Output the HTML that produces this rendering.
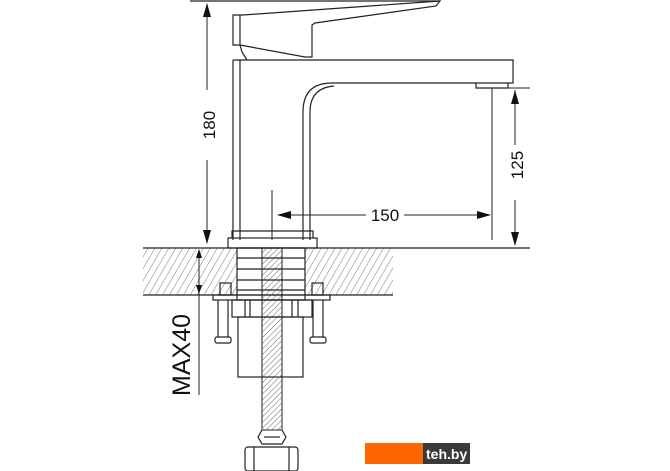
<!DOCTYPE html>
<html><head><style>body{margin:0;background:#fff}svg{display:block}</style></head><body>
<svg width="670" height="471" viewBox="0 0 670 471" xmlns="http://www.w3.org/2000/svg" font-family="Liberation Sans, sans-serif">
<defs>
<pattern id="h" width="6" height="6" patternUnits="userSpaceOnUse" patternTransform="rotate(30)">
<line x1="0" y1="0" x2="0" y2="6" stroke="#555" stroke-width="0.8"/></pattern>
<pattern id="t" width="4" height="4" patternUnits="userSpaceOnUse" patternTransform="rotate(45)">
<line x1="0" y1="0" x2="0" y2="4" stroke="#444" stroke-width="0.8"/></pattern>
</defs>
<g fill="none" stroke="#222" stroke-width="1.2">
<path d="M190 1 L440 1"/>
<path d="M233 15 L243 15 L440 1 L436 6 L315 23 L312 25 L312 57 L305 57 L240 45 L233 45 Z"/>
<path d="M240 15 L240 45"/>
<path d="M240 45 L242 52 L247 60"/>
<path d="M233 60 L233 240 M240 60 L240 240"/>
<path d="M233 60 L513 60 L513 83 L332 83 Q303 83 303 112 L303 240"/>
<path d="M310 240 L310 112 Q310 88 334 86"/>
<path d="M476 83 L476 88 L508 88 L508 83"/>
<rect x="228" y="238" width="89" height="10"/>
<path d="M232 238 L232 231 L313 231 L313 238"/>
</g>
<rect x="143" y="248" width="94" height="47" fill="url(#h)"/>
<rect x="305" y="248" width="88" height="47" fill="url(#h)"/>
<g fill="none" stroke="#222" stroke-width="1.2">
<path d="M143 248 L530 248 M143 295 L393 295"/>
<rect x="237" y="248" width="68" height="52"/>
<path d="M237 258 L305 258 M237 269 L305 269 M237 280 L305 280 M237 290 L305 290"/>
<rect x="220" y="283" width="11" height="12"/><rect x="312" y="283" width="11" height="12"/>
<rect x="213" y="295" width="117" height="5"/>
<rect x="232" y="300" width="80" height="17"/>
<path d="M245 300 L245 317 M250 300 L250 317 M292 300 L292 317 M298 300 L298 317"/>
<rect x="238" y="317" width="65" height="60"/>
<path d="M218 300 L218 337 M228 300 L228 337 M313 300 L313 337 M323 300 L323 337"/>
<rect x="215" y="337" width="16" height="6" rx="2"/><rect x="310" y="337" width="16" height="6" rx="2"/>
</g>
<rect x="262" y="248" width="20" height="182" fill="url(#t)" stroke="#222" stroke-width="1"/>
<g fill="none" stroke="#222" stroke-width="1.2">
<path d="M262 430 L258 437 L262 444 L282 444 L286 437 L282 430"/>
<path d="M264 437 L280 437"/>
<rect x="245" y="447" width="53" height="24" rx="3"/>
<path d="M254 447 L254 471 M289 447 L289 471"/>
</g>
<g stroke="#222" stroke-width="1" fill="none">
<path d="M207 4 L207 90 M207 160 L207 243"/>
<path d="M515 90 L515 145 M515 200 L515 245"/>
<path d="M492 88 L492 240 M492 88 L530 88"/>
<path d="M272 190 L272 240"/>
<path d="M278 215 L366 215 M404 215 L490 215"/>
<path d="M199 250 L199 395"/>
</g>
<g fill="#111">
<path d="M207 3 L203 17 L211 17 Z"/><path d="M207 244 L203 230 L211 230 Z"/>
<path d="M515 90 L511 104 L519 104 Z"/><path d="M515 246 L511 232 L519 232 Z"/>
<path d="M277 215 L291 211 L291 219 Z"/><path d="M491 215 L477 211 L477 219 Z"/>
<path d="M199 249 L196 258 L202 258 Z"/><path d="M199 294 L196 285 L202 285 Z"/>
</g>
<g font-size="17" fill="#111" text-anchor="middle">
<text x="385" y="221">150</text>
<text transform="translate(215,125) rotate(-90)">180</text>
<text transform="translate(523,165) rotate(-90)">125</text>
<text transform="translate(190,355) rotate(-90)" font-size="25">MAX40</text>
</g>
<rect x="365" y="443" width="58" height="21" fill="#ff6600"/>
<rect x="423" y="443" width="47" height="21" fill="#3a3a3a"/>
<text x="426" y="459" font-size="14" font-weight="bold" fill="#fff">teh.by</text>
</svg>
</body></html>
